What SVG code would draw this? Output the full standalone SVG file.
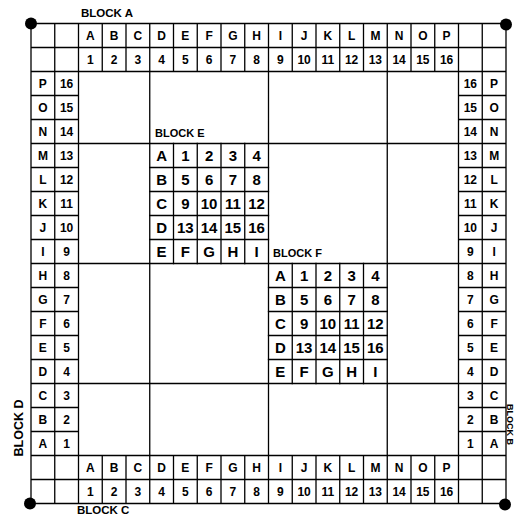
<svg xmlns="http://www.w3.org/2000/svg" width="514" height="518" viewBox="0 0 514 518">
<style>
.ln{stroke:#000;stroke-width:1.3;fill:none;stroke-linecap:square}
.c{font-family:"Liberation Sans",Arial,sans-serif;font-weight:bold;font-size:12px;text-anchor:middle;fill:#000}
.b{font-family:"Liberation Sans",Arial,sans-serif;font-weight:bold;font-size:15px;text-anchor:middle;fill:#000}
.lbl{font-family:"Liberation Sans",Arial,sans-serif;font-weight:bold;font-size:11.5px;fill:#000}
</style>
<rect width="514" height="518" fill="#fff"/>
<g id="grid">
<path class="ln" d="M31 23.5H506M31 47.5H506M31 71.5H506M31 455.5H506M31 479.5H506M31 503.5H506
M31 95.5H78.5M31 119.5H78.5M31 143.5H78.5M31 167.5H78.5M31 191.5H78.5M31 215.5H78.5M31 239.5H78.5M31 263.5H78.5M31 287.5H78.5M31 311.5H78.5M31 335.5H78.5M31 359.5H78.5M31 383.5H78.5M31 407.5H78.5M31 431.5H78.5
M458.5 95.5H506M458.5 119.5H506M458.5 143.5H506M458.5 167.5H506M458.5 191.5H506M458.5 215.5H506M458.5 239.5H506M458.5 263.5H506M458.5 287.5H506M458.5 311.5H506M458.5 335.5H506M458.5 359.5H506M458.5 383.5H506M458.5 407.5H506M458.5 431.5H506
M31 23.5V503.5M54.75 23.5V503.5M78.5 23.5V503.5M458.5 23.5V503.5M482.25 23.5V503.5M506 23.5V503.5
M102.25 23.5V71.5M126 23.5V71.5M149.75 23.5V71.5M173.5 23.5V71.5M197.25 23.5V71.5M221 23.5V71.5M244.75 23.5V71.5M268.5 23.5V71.5M292.25 23.5V71.5M316 23.5V71.5M339.75 23.5V71.5M363.5 23.5V71.5M387.25 23.5V71.5M411 23.5V71.5M434.75 23.5V71.5
M102.25 455.5V503.5M126 455.5V503.5M149.75 455.5V503.5M173.5 455.5V503.5M197.25 455.5V503.5M221 455.5V503.5M244.75 455.5V503.5M268.5 455.5V503.5M292.25 455.5V503.5M316 455.5V503.5M339.75 455.5V503.5M363.5 455.5V503.5M387.25 455.5V503.5M411 455.5V503.5M434.75 455.5V503.5
M78.5 143.5H458.5M78.5 263.5H458.5M78.5 383.5H458.5M149.75 71.5V455.5M268.5 71.5V455.5M387.25 71.5V455.5"/>
<circle cx="31" cy="23.5" r="6" fill="#000"/>
<circle cx="506" cy="24.5" r="6" fill="#000"/>
<circle cx="30" cy="503.5" r="6" fill="#000"/>
<circle cx="505" cy="504.5" r="6" fill="#000"/>
</g>
<g id="block-a">
<text class="lbl" x="81" y="17">BLOCK A</text>
<text class="c" x="90.375" y="39.8">A</text><text class="c" x="114.125" y="39.8">B</text><text class="c" x="137.875" y="39.8">C</text><text class="c" x="161.625" y="39.8">D</text><text class="c" x="185.375" y="39.8">E</text><text class="c" x="209.125" y="39.8">F</text><text class="c" x="232.875" y="39.8">G</text><text class="c" x="256.625" y="39.8">H</text><text class="c" x="280.375" y="39.8">I</text><text class="c" x="304.125" y="39.8">J</text><text class="c" x="327.875" y="39.8">K</text><text class="c" x="351.625" y="39.8">L</text><text class="c" x="375.375" y="39.8">M</text><text class="c" x="399.125" y="39.8">N</text><text class="c" x="422.875" y="39.8">O</text><text class="c" x="446.625" y="39.8">P</text>
<text class="c" x="90.375" y="63.8">1</text><text class="c" x="114.125" y="63.8">2</text><text class="c" x="137.875" y="63.8">3</text><text class="c" x="161.625" y="63.8">4</text><text class="c" x="185.375" y="63.8">5</text><text class="c" x="209.125" y="63.8">6</text><text class="c" x="232.875" y="63.8">7</text><text class="c" x="256.625" y="63.8">8</text><text class="c" x="280.375" y="63.8">9</text><text class="c" x="304.125" y="63.8">10</text><text class="c" x="327.875" y="63.8">11</text><text class="c" x="351.625" y="63.8">12</text><text class="c" x="375.375" y="63.8">13</text><text class="c" x="399.125" y="63.8">14</text><text class="c" x="422.875" y="63.8">15</text><text class="c" x="446.625" y="63.8">16</text>
</g>
<g id="block-c">
<text class="lbl" x="77" y="514">BLOCK C</text>
<text class="c" x="90.375" y="471.8">A</text><text class="c" x="114.125" y="471.8">B</text><text class="c" x="137.875" y="471.8">C</text><text class="c" x="161.625" y="471.8">D</text><text class="c" x="185.375" y="471.8">E</text><text class="c" x="209.125" y="471.8">F</text><text class="c" x="232.875" y="471.8">G</text><text class="c" x="256.625" y="471.8">H</text><text class="c" x="280.375" y="471.8">I</text><text class="c" x="304.125" y="471.8">J</text><text class="c" x="327.875" y="471.8">K</text><text class="c" x="351.625" y="471.8">L</text><text class="c" x="375.375" y="471.8">M</text><text class="c" x="399.125" y="471.8">N</text><text class="c" x="422.875" y="471.8">O</text><text class="c" x="446.625" y="471.8">P</text>
<text class="c" x="90.375" y="495.8">1</text><text class="c" x="114.125" y="495.8">2</text><text class="c" x="137.875" y="495.8">3</text><text class="c" x="161.625" y="495.8">4</text><text class="c" x="185.375" y="495.8">5</text><text class="c" x="209.125" y="495.8">6</text><text class="c" x="232.875" y="495.8">7</text><text class="c" x="256.625" y="495.8">8</text><text class="c" x="280.375" y="495.8">9</text><text class="c" x="304.125" y="495.8">10</text><text class="c" x="327.875" y="495.8">11</text><text class="c" x="351.625" y="495.8">12</text><text class="c" x="375.375" y="495.8">13</text><text class="c" x="399.125" y="495.8">14</text><text class="c" x="422.875" y="495.8">15</text><text class="c" x="446.625" y="495.8">16</text>
</g>
<g id="block-d">
<text class="lbl" transform="translate(23 428) rotate(-90)" text-anchor="middle" style="font-size:12.5px">BLOCK D</text>
<text class="c" x="42.875" y="87.8">P</text><text class="c" x="42.875" y="111.8">O</text><text class="c" x="42.875" y="135.8">N</text><text class="c" x="42.875" y="159.8">M</text><text class="c" x="42.875" y="183.8">L</text><text class="c" x="42.875" y="207.8">K</text><text class="c" x="42.875" y="231.8">J</text><text class="c" x="42.875" y="255.8">I</text><text class="c" x="42.875" y="279.8">H</text><text class="c" x="42.875" y="303.8">G</text><text class="c" x="42.875" y="327.8">F</text><text class="c" x="42.875" y="351.8">E</text><text class="c" x="42.875" y="375.8">D</text><text class="c" x="42.875" y="399.8">C</text><text class="c" x="42.875" y="423.8">B</text><text class="c" x="42.875" y="447.8">A</text>
<text class="c" x="66.625" y="87.8">16</text><text class="c" x="66.625" y="111.8">15</text><text class="c" x="66.625" y="135.8">14</text><text class="c" x="66.625" y="159.8">13</text><text class="c" x="66.625" y="183.8">12</text><text class="c" x="66.625" y="207.8">11</text><text class="c" x="66.625" y="231.8">10</text><text class="c" x="66.625" y="255.8">9</text><text class="c" x="66.625" y="279.8">8</text><text class="c" x="66.625" y="303.8">7</text><text class="c" x="66.625" y="327.8">6</text><text class="c" x="66.625" y="351.8">5</text><text class="c" x="66.625" y="375.8">4</text><text class="c" x="66.625" y="399.8">3</text><text class="c" x="66.625" y="423.8">2</text><text class="c" x="66.625" y="447.8">1</text>
</g>
<g id="block-b">
<text class="lbl" transform="translate(506.5 404) rotate(90)" style="font-size:9px">BLOCK B</text>
<text class="c" x="470.375" y="87.8">16</text><text class="c" x="470.375" y="111.8">15</text><text class="c" x="470.375" y="135.8">14</text><text class="c" x="470.375" y="159.8">13</text><text class="c" x="470.375" y="183.8">12</text><text class="c" x="470.375" y="207.8">11</text><text class="c" x="470.375" y="231.8">10</text><text class="c" x="470.375" y="255.8">9</text><text class="c" x="470.375" y="279.8">8</text><text class="c" x="470.375" y="303.8">7</text><text class="c" x="470.375" y="327.8">6</text><text class="c" x="470.375" y="351.8">5</text><text class="c" x="470.375" y="375.8">4</text><text class="c" x="470.375" y="399.8">3</text><text class="c" x="470.375" y="423.8">2</text><text class="c" x="470.375" y="447.8">1</text>
<text class="c" x="494.125" y="87.8">P</text><text class="c" x="494.125" y="111.8">O</text><text class="c" x="494.125" y="135.8">N</text><text class="c" x="494.125" y="159.8">M</text><text class="c" x="494.125" y="183.8">L</text><text class="c" x="494.125" y="207.8">K</text><text class="c" x="494.125" y="231.8">J</text><text class="c" x="494.125" y="255.8">I</text><text class="c" x="494.125" y="279.8">H</text><text class="c" x="494.125" y="303.8">G</text><text class="c" x="494.125" y="327.8">F</text><text class="c" x="494.125" y="351.8">E</text><text class="c" x="494.125" y="375.8">D</text><text class="c" x="494.125" y="399.8">C</text><text class="c" x="494.125" y="423.8">B</text><text class="c" x="494.125" y="447.8">A</text>
</g>
<g id="block-e">
<text class="lbl" x="155" y="137" style="font-size:11px">BLOCK E</text>
<path class="ln" d="M173.5 143.5V263.5M197.25 143.5V263.5M221 143.5V263.5M244.75 143.5V263.5M149.75 167.5H268.5M149.75 191.5H268.5M149.75 215.5H268.5M149.75 239.5H268.5"/>
<text class="b" x="161.625" y="160.9">A</text><text class="b" x="185.375" y="160.9">1</text><text class="b" x="209.125" y="160.9">2</text><text class="b" x="232.875" y="160.9">3</text><text class="b" x="256.625" y="160.9">4</text>
<text class="b" x="161.625" y="184.9">B</text><text class="b" x="185.375" y="184.9">5</text><text class="b" x="209.125" y="184.9">6</text><text class="b" x="232.875" y="184.9">7</text><text class="b" x="256.625" y="184.9">8</text>
<text class="b" x="161.625" y="208.9">C</text><text class="b" x="185.375" y="208.9">9</text><text class="b" x="209.125" y="208.9">10</text><text class="b" x="232.875" y="208.9">11</text><text class="b" x="256.625" y="208.9">12</text>
<text class="b" x="161.625" y="232.9">D</text><text class="b" x="185.375" y="232.9">13</text><text class="b" x="209.125" y="232.9">14</text><text class="b" x="232.875" y="232.9">15</text><text class="b" x="256.625" y="232.9">16</text>
<text class="b" x="161.625" y="256.9">E</text><text class="b" x="185.375" y="256.9">F</text><text class="b" x="209.125" y="256.9">G</text><text class="b" x="232.875" y="256.9">H</text><text class="b" x="256.625" y="256.9">I</text>
</g>
<g id="block-f">
<text class="lbl" x="273" y="257" style="font-size:11px">BLOCK F</text>
<path class="ln" d="M292.25 263.5V383.5M316 263.5V383.5M339.75 263.5V383.5M363.5 263.5V383.5M268.5 287.5H387.25M268.5 311.5H387.25M268.5 335.5H387.25M268.5 359.5H387.25"/>
<text class="b" x="280.375" y="280.9">A</text><text class="b" x="304.125" y="280.9">1</text><text class="b" x="327.875" y="280.9">2</text><text class="b" x="351.625" y="280.9">3</text><text class="b" x="375.375" y="280.9">4</text>
<text class="b" x="280.375" y="304.9">B</text><text class="b" x="304.125" y="304.9">5</text><text class="b" x="327.875" y="304.9">6</text><text class="b" x="351.625" y="304.9">7</text><text class="b" x="375.375" y="304.9">8</text>
<text class="b" x="280.375" y="328.9">C</text><text class="b" x="304.125" y="328.9">9</text><text class="b" x="327.875" y="328.9">10</text><text class="b" x="351.625" y="328.9">11</text><text class="b" x="375.375" y="328.9">12</text>
<text class="b" x="280.375" y="352.9">D</text><text class="b" x="304.125" y="352.9">13</text><text class="b" x="327.875" y="352.9">14</text><text class="b" x="351.625" y="352.9">15</text><text class="b" x="375.375" y="352.9">16</text>
<text class="b" x="280.375" y="376.9">E</text><text class="b" x="304.125" y="376.9">F</text><text class="b" x="327.875" y="376.9">G</text><text class="b" x="351.625" y="376.9">H</text><text class="b" x="375.375" y="376.9">I</text>
</g>
</svg>
